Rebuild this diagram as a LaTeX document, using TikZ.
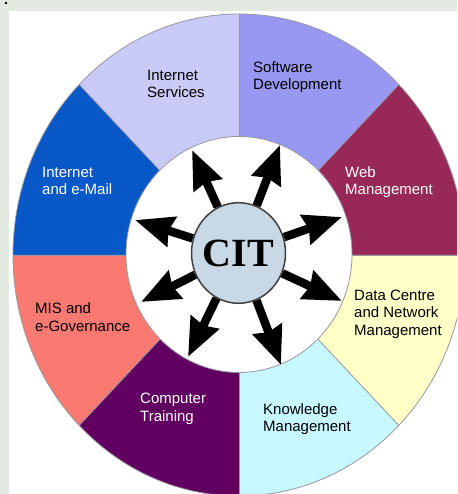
\documentclass[tikz,border=0pt]{standalone}
\usepackage{fontspec}
\setmainfont{Liberation Sans}
\newfontfamily\citfont{Liberation Serif}
\usetikzlibrary{arrows.meta,calc}
\definecolor{bgc}{RGB}{226,234,226}
\definecolor{isc}{RGB}{202,202,248}
\definecolor{softc}{RGB}{152,152,242}
\definecolor{webc}{RGB}{152,40,88}
\definecolor{dcc}{RGB}{255,255,200}
\definecolor{kmc}{RGB}{200,248,255}
\definecolor{ctc}{RGB}{98,0,98}
\definecolor{misc}{RGB}{250,122,114}
\definecolor{iemc}{RGB}{8,88,200}
\definecolor{citc}{RGB}{200,216,228}
\definecolor{edgec}{RGB}{150,150,160}
\begin{document}
\begin{tikzpicture}[x=1pt,y=1pt,
  lbl/.style={anchor=west,align=left,font=\fontsize{15}{17.5}\selectfont,inner sep=0pt},
  arr/.style={line width=8.5pt,-{Stealth[length=38pt 0 0,width=30pt 0 0,inset=3pt 0 0]}},
  segedge/.style={draw=edgec,line width=0.8pt}]
\useasboundingbox (0,0) rectangle (457,494);
\fill[bgc] (0,0) rectangle (457,494);
\fill[white] (9,0) rectangle (457,483);
\fill (6,491) circle (1.3);
\begin{scope}
  \clip (9,0) rectangle (457,483);
  \foreach \a/\c in {0/webc,45/softc,90/isc,135/iemc,180/misc,225/ctc,270/kmc,315/dcc}
    \fill[\c] (239,239) -- ++(\a:226pt and 241pt) arc[start angle=\a, delta angle=45, x radius=226pt, y radius=241pt] -- cycle;
  \draw[segedge] (239,239) ellipse [x radius=226pt, y radius=241pt];
  \foreach \a in {0,45,...,315}
    \draw[segedge] (239,239) -- ++(\a:226pt and 241pt);
\end{scope}
\fill[white,segedge] (239,239.5) ellipse [x radius=113pt, y radius=118pt];

\node[circle,draw=black!75,line width=1.5pt,fill=citc,minimum width=94pt,inner sep=0pt,yscale=1.07] (cit) at (238.5,241) {};
\node at (238.5,241) {\citfont\bfseries\fontsize{40}{40}\selectfont CIT};

\coordinate (t1) at (192,344);
\coordinate (t2) at (280,349);
\coordinate (t3) at (342,277);
\coordinate (t4) at (342,193);
\coordinate (t5) at (281,129);
\coordinate (t6) at (188,137);
\coordinate (t7) at (141,192);
\coordinate (t8) at (135,274);
\foreach \t in {t1,t2,t3,t4,t5,t6,t7,t8}
  \draw[arr] (cit) -- (\t);

\node[lbl] (is) at (147,410) {Internet\\Services};
\node[lbl] (sd) at (253,417) {Software\\Development};
\node[lbl,text=white] (wm) at (345,312) {Web\\Management};
\node[lbl,text=white] (ie) at (42,313) {Internet\\and e-Mail};
\node[lbl] (dc) at (354,180) {Data Centre\\and Network\\Management};
\node[lbl] (mis) at (35,177) {MIS and\\e-Governance};
\node[lbl,text=white] (ct) at (140,85) {Computer\\Training};
\node[lbl] (km) at (263,75) {Knowledge\\Management};
\end{tikzpicture}
\end{document}
